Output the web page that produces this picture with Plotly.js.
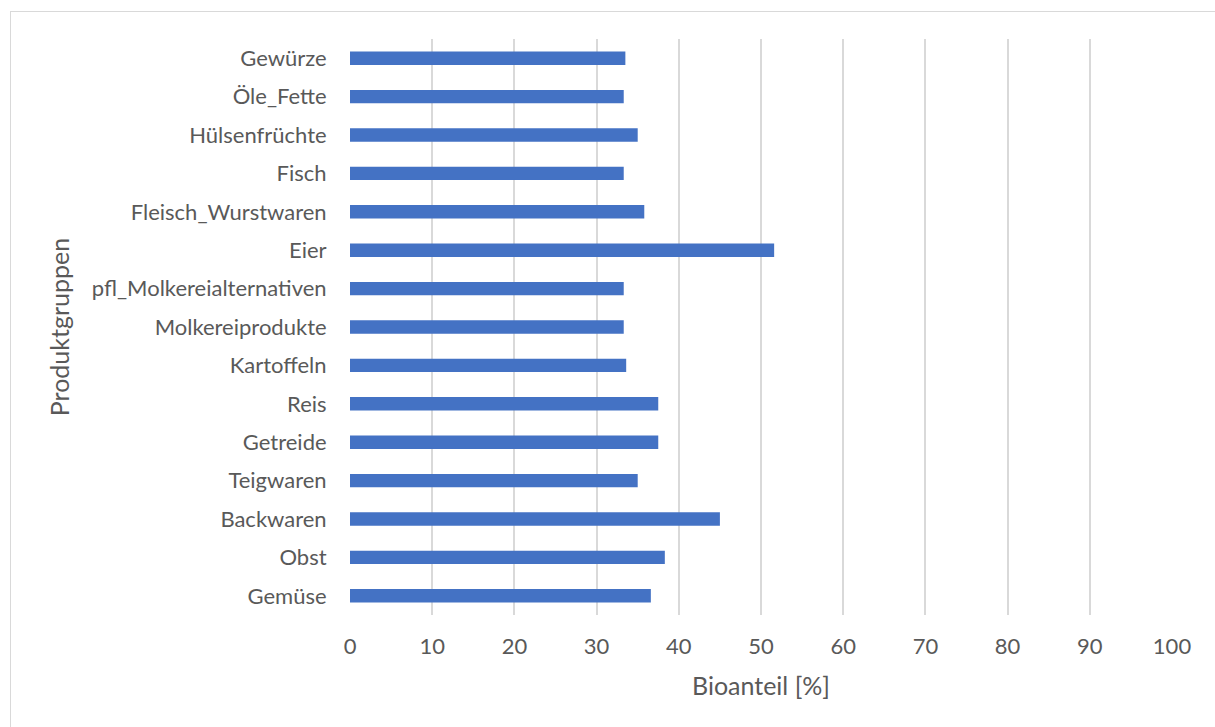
<!DOCTYPE html>
<html>
<head>
<meta charset="utf-8">
<script src="https://cdn.plot.ly/plotly-3.0.1.min.js"></script>
<style>
  html, body { margin: 0; padding: 0; background: #ffffff; overflow: hidden; }
  #frame { position: absolute; left: 10px; top: 11px; width: 1300px; height: 800px;
           border: 1px solid #D9D9D9; box-sizing: border-box; }
  #chart { position: absolute; left: 0; top: 0; width: 1215px; height: 727px; }
</style>
</head>
<body>
<div id="frame"></div>
<div id="chart"></div>
<script>
// Product groups, listed bottom to top
const categories = [
  "Gemüse", "Obst", "Backwaren", "Teigwaren", "Getreide", "Reis", "Kartoffeln",
  "Molkereiprodukte", "pfl_Molkereialternativen", "Eier", "Fleisch_Wurstwaren",
  "Fisch", "Hülsenfrüchte", "Öle_Fette", "Gewürze"
];
// Organic share per product group in percent
const bioShare = [
  36.6, 38.3, 45.0, 35.0, 37.5, 37.5, 33.6,
  33.3, 33.3, 51.6, 35.8,
  33.3, 35.0, 33.3, 33.5
];
const xTicks = [0, 10, 20, 30, 40, 50, 60, 70, 80, 90, 100];

const textColor = "#595959";
const gridColor = "#D9D9D9";
const fontFamily = "Lato, 'Open Sans', sans-serif";
const tickFont = { family: fontFamily, size: 22, color: textColor };
const titleFont = { family: fontFamily, size: 25, color: textColor };

const trace = {
  type: "bar",
  orientation: "h",
  y: categories,
  x: bioShare,
  width: 0.35,
  marker: { color: "#4472C4", line: { width: 0 } },
  hoverinfo: "x+y"
};

const layout = {
  width: 1215,
  height: 727,
  margin: { l: 350, r: 43, t: 39, b: 112, pad: 0 },
  paper_bgcolor: "rgba(0,0,0,0)",
  plot_bgcolor: "rgba(0,0,0,0)",
  showlegend: false,
  font: { family: fontFamily, size: 22, color: textColor },
  xaxis: {
    range: [0, 100],
    tickvals: xTicks,
    ticktext: xTicks.map(String),
    showgrid: true,
    gridcolor: gridColor,
    gridwidth: 2,
    zeroline: false,
    showline: false,
    ticks: "outside",
    ticklen: 12,
    tickcolor: "rgba(0,0,0,0)",
    tickfont: tickFont,
    title: { text: "Bioanteil [%]", font: titleFont, standoff: 19 },
    fixedrange: true
  },
  yaxis: {
    type: "category",
    categoryorder: "array",
    categoryarray: categories,
    showgrid: false,
    zeroline: false,
    showline: false,
    ticks: "outside",
    ticklen: 18,
    tickcolor: "rgba(0,0,0,0)",
    tickfont: tickFont,
    title: { text: "Produktgruppen", font: titleFont, standoff: 15 },
    fixedrange: true
  }
};

Plotly.newPlot("chart", [trace], layout, { displayModeBar: false, staticPlot: true });
</script>
</body>
</html>
